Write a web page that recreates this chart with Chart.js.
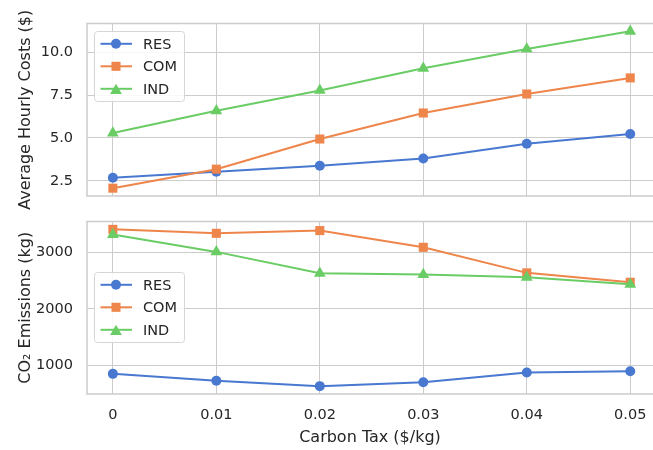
<!DOCTYPE html>
<html>
<head>
<meta charset="utf-8">
<script src="https://cdn.jsdelivr.net/npm/chart.js@4/dist/chart.umd.min.js"></script>
<style>
html,body{margin:0;padding:0;background:#fff;overflow:hidden;}
#wrap{position:relative;width:653px;height:450px;overflow:hidden;}
canvas{position:absolute;left:0;top:0;width:653px;height:450px;}
</style>
</head>
<body>
<div id="wrap">
<canvas id="top" width="653" height="450"></canvas>
<canvas id="bot" width="653" height="450"></canvas>
</div>
<script>
// ---- data ----
const taxes = [0, 0.01, 0.02, 0.03, 0.04, 0.05];
const xTickLabels = ['0', '0.01', '0.02', '0.03', '0.04', '0.05'];
const seriesNames = ['RES', 'COM', 'IND'];
const costRES = [2.68, 3.03, 3.38, 3.80, 4.66, 5.23];
const costCOM = [2.07, 3.18, 4.94, 6.46, 7.57, 8.51];
const costIND = [5.29, 6.59, 7.78, 9.07, 10.20, 11.23];
const emisRES = [854, 732, 637, 707, 877, 900];
const emisCOM = [3405, 3335, 3383, 3088, 2637, 2471];
const emisIND = [3312, 3007, 2630, 2607, 2559, 2436];
const costTicks = [2.5, 5.0, 7.5, 10.0];
const emisTicks = [1000, 2000, 3000];

// ---- style ----
const colors = ['#4878d0', '#ee854a', '#6acc64'];
const styles = ['circle', 'rect', 'triangle'];
const radii = [5, 6.4, 6.8];
const TEXT = '#262626';
const GRID = '#cccccc';
const FONT = "'DejaVu Sans', sans-serif";

function pad(arr) {
  const all = [].concat(...arr);
  const mn = Math.min(...all), mx = Math.max(...all);
  const m = (mx - mn) * 0.05;
  return [mn - m, mx + m];
}
// x limits: 5% margin on the left; the right side of the figure is cropped
const xm = (taxes[taxes.length - 1] - taxes[0]) * 0.05;
const xMin = taxes[0] - xm;
const xMax = taxes[taxes.length - 1] + xm * 0.88;

function mkData(series) {
  return {
    datasets: series.map((vals, i) => ({
      label: seriesNames[i],
      data: taxes.map((t, j) => ({x: t, y: vals[j]})),
      borderColor: colors[i],
      backgroundColor: colors[i],
      pointBackgroundColor: colors[i],
      pointBorderWidth: 0,
      pointStyle: styles[i],
      pointRadius: radii[i],
      borderWidth: 2,
      tension: 0,
      clip: false,
      order: 2 - i
    }))
  };
}

function drawMarker(ctx, style, x, y, r) {
  ctx.beginPath();
  if (style === 'circle') {
    ctx.arc(x, y, r, 0, Math.PI * 2);
  } else if (style === 'rect') {
    const s = Math.SQRT1_2 * r;
    ctx.rect(x - s, y - s, 2 * s, 2 * s);
  } else {
    const h = 1.5 * r, w = Math.sqrt(3) * r;
    ctx.moveTo(x, y - h / 2);
    ctx.lineTo(x + w / 2, y + h / 2);
    ctx.lineTo(x - w / 2, y + h / 2);
    ctx.closePath();
  }
  ctx.fill();
}

const framePlugin = {
  id: 'frame',
  beforeDatasetsDraw(chart) {
    const {ctx, chartArea: a} = chart;
    ctx.save();
    ctx.strokeStyle = GRID;
    ctx.lineWidth = 1.5;
    ctx.beginPath();
    ctx.moveTo(a.right + 2, a.top);
    ctx.lineTo(a.left, a.top);
    ctx.lineTo(a.left, a.bottom);
    ctx.lineTo(a.right + 2, a.bottom);
    ctx.stroke();
    ctx.restore();
  }
};

const legendPlugin = {
  id: 'mplLegend',
  afterDraw(chart, args, opts) {
    const {ctx} = chart;
    const x0 = opts.x, y0 = opts.y, w = 90, h = 70;
    ctx.save();
    ctx.beginPath();
    if (ctx.roundRect) ctx.roundRect(x0, y0, w, h, 3); else ctx.rect(x0, y0, w, h);
    ctx.fillStyle = 'rgba(255,255,255,0.85)';
    ctx.fill();
    ctx.strokeStyle = '#d6d6d6';
    ctx.lineWidth = 1;
    ctx.stroke();
    seriesNames.forEach((name, i) => {
      const yy = y0 + 12.3 + i * 22.5;
      ctx.strokeStyle = colors[i];
      ctx.lineWidth = 2;
      ctx.beginPath();
      ctx.moveTo(x0 + 6, yy);
      ctx.lineTo(x0 + 37.5, yy);
      ctx.stroke();
      ctx.fillStyle = colors[i];
      drawMarker(ctx, styles[i], x0 + 21.5, yy, radii[i]);
      ctx.fillStyle = TEXT;
      ctx.font = '14.5px ' + FONT;
      ctx.textBaseline = 'middle';
      ctx.textAlign = 'left';
      ctx.fillText(name, x0 + 48.5, yy + 1);
    });
    ctx.restore();
  }
};

function xScale(showTicks) {
  return {
    type: 'linear',
    min: xMin,
    max: xMax,
    afterBuildTicks: s => { s.ticks = taxes.map(v => ({value: v})); },
    afterFit: s => { s.height = showTicks ? 56 : 0; s.paddingLeft = 0; s.paddingRight = 0; },
    grid: {color: GRID, lineWidth: 1, drawTicks: false},
    border: {display: false},
    ticks: {
      display: showTicks,
      autoSkip: false,
      maxRotation: 0,
      padding: 13,
      color: TEXT,
      font: {family: FONT, size: 14.5},
      callback: (v) => { const k = taxes.indexOf(v); return k >= 0 ? xTickLabels[k] : ''; }
    },
    title: {
      display: showTicks,
      text: 'Carbon Tax ($/kg)',
      color: TEXT,
      font: {family: FONT, size: 16},
      padding: {top: 0, bottom: 3}
    }
  };
}

function yScale(range, ticks, fmt, title) {
  return {
    type: 'linear',
    min: range[0],
    max: range[1],
    afterBuildTicks: s => { s.ticks = ticks.map(v => ({value: v})); },
    afterFit: s => { s.width = 87; s.paddingTop = 0; s.paddingBottom = 0; },
    grid: {color: GRID, lineWidth: 1, drawTicks: false},
    border: {display: false},
    ticks: {
      padding: 14,
      color: TEXT,
      font: {family: FONT, size: 14.5},
      callback: fmt
    },
    title: {
      display: true,
      text: title,
      color: TEXT,
      font: {family: FONT, size: 16},
      padding: {top: 16, bottom: 0}
    }
  };
}

const common = {
  responsive: false,
  maintainAspectRatio: false,
  animation: false,
  devicePixelRatio: 1
};

new Chart(document.getElementById('top'), {
  type: 'line',
  data: mkData([costRES, costCOM, costIND]),
  options: Object.assign({}, common, {
    layout: {autoPadding: false, padding: {top: 23.5, bottom: 254, left: 0, right: 0}},
    scales: {
      x: xScale(false),
      y: yScale(pad([costRES, costCOM, costIND]), costTicks, v => v.toFixed(1), 'Average Hourly Costs ($)')
    },
    plugins: {legend: {display: false}, tooltip: {enabled: false}, mplLegend: {x: 94.5, y: 31.5}}
  }),
  plugins: [framePlugin, legendPlugin]
});

new Chart(document.getElementById('bot'), {
  type: 'line',
  data: mkData([emisRES, emisCOM, emisIND]),
  options: Object.assign({}, common, {
    layout: {autoPadding: false, padding: {top: 221.5, bottom: 0, left: 0, right: 0}},
    scales: {
      x: xScale(true),
      y: yScale(pad([emisRES, emisCOM, emisIND]), emisTicks, v => String(Math.round(v)), 'CO\u2082 Emissions (kg)')
    },
    plugins: {legend: {display: false}, tooltip: {enabled: false}, mplLegend: {x: 94.5, y: 272.5}}
  }),
  plugins: [framePlugin, legendPlugin]
});
</script>
</body>
</html>
